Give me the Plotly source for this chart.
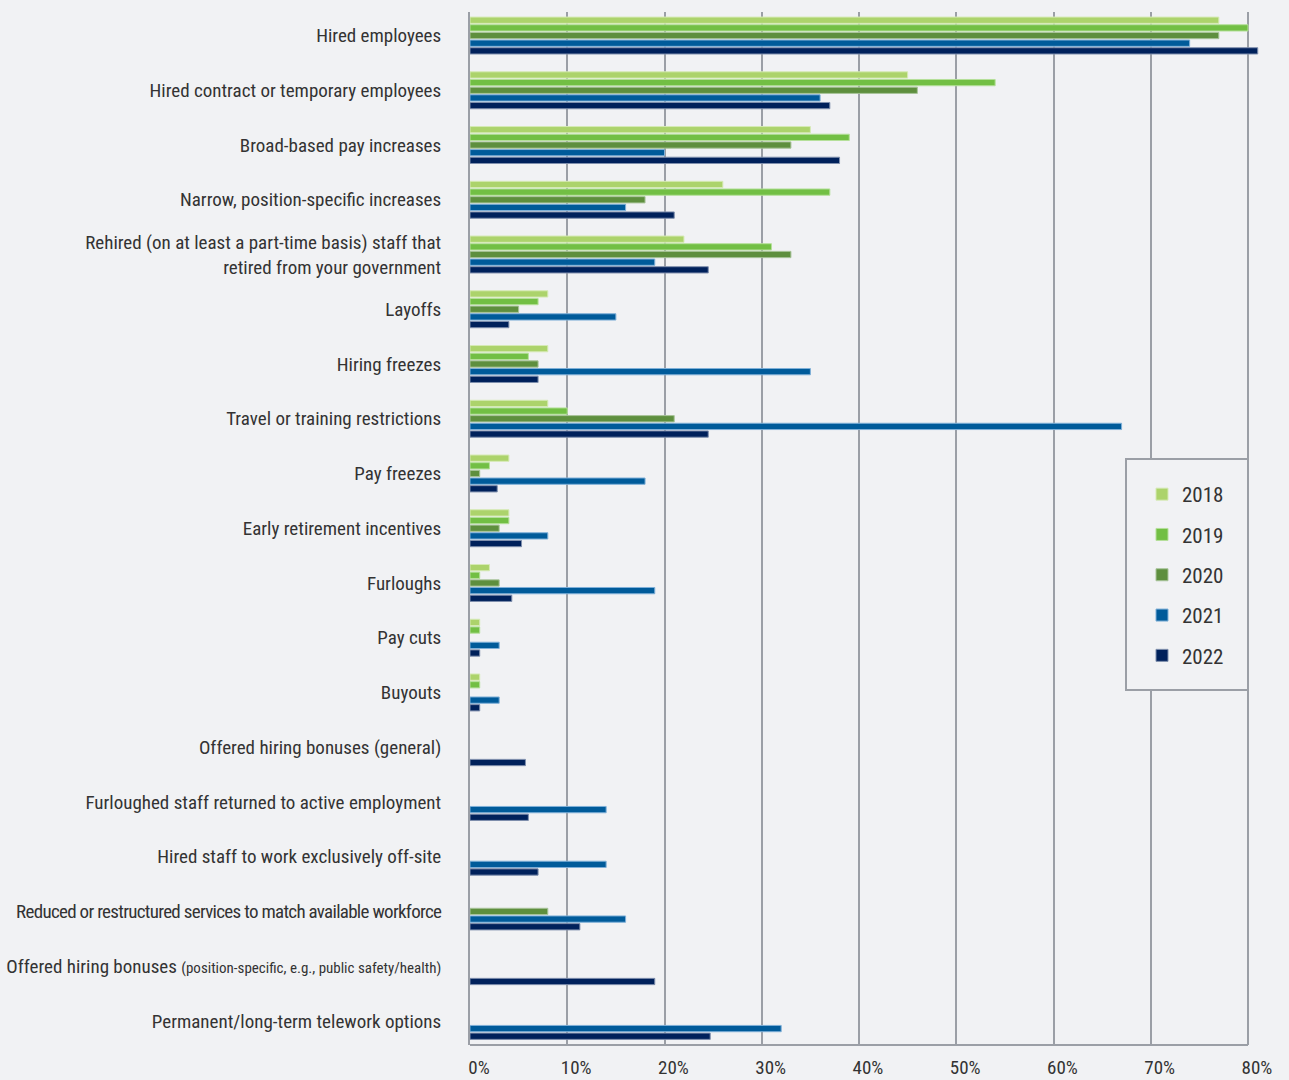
import plotly.graph_objects as go

categories = [
    "Hired employees",
    "Hired contract or temporary employees",
    "Broad-based pay increases",
    "Narrow, position-specific increases",
    "Rehired (on at least a part-time basis) staff that<br>retired from your government",
    "Layoffs",
    "Hiring freezes",
    "Travel or training restrictions",
    "Pay freezes",
    "Early retirement incentives",
    "Furloughs",
    "Pay cuts",
    "Buyouts",
    "Offered hiring bonuses (general)",
    "Furloughed staff returned to active employment",
    "Hired staff to work exclusively off-site",
    "<span style='letter-spacing:-0.7px'>Reduced or restructured services to match available workforce</span>",
    "Offered hiring bonuses <span style='font-size:15px'>(position-specific, e.g., public safety/health)</span>",
    "Permanent/long-term telework options",
]

years = ["2018", "2019", "2020", "2021", "2022"]

v2018 = [77, 45, 35, 26, 22, 8, 8, 8, 4, 4, 2, 1, 1, None, None, None, None, None, None]
v2019 = [80, 54, 39, 37, 31, 7, 6, 10, 2, 4, 1, 1, 1, None, None, None, None, None, None]
v2020 = [77, 46, 33, 18, 33, 5, 7, 21, 1, 3, 3, None, None, None, None, None, 8, None, None]
v2021 = [74, 36, 20, 16, 19, 15, 35, 67, 18, 8, 19, 3, 3, None, 14, 14, 16, None, 32]
v2022 = [81, 37, 38, 21, 24.5, 4, 7, 24.5, 2.8, 5.3, 4.3, 1, 1, 5.7, 6, 7, 11.3, 19, 24.7]

tick_values = [0, 10, 20, 30, 40, 50, 60, 70, 80]
tick_labels = ["0%", "10%", "20%", "30%", "40%", "50%", "60%", "70%", "80%"]

series = [v2018, v2019, v2020, v2021, v2022]
colors = ["#acd36b", "#72bf44", "#5e8f3e", "#005b9a", "#00215b"]
outline = ["#d6eab5", "#b5e09a", "#a9c49a", "#7fb0d8", "#7f8fad"]

BG = "#f1f2f4"
GRID = "#9b9fa6"
TXT = "#333333"
FONT = "Roboto Condensed, DejaVu Sans Condensed, sans-serif"

fig = go.Figure()
for yr, vals, c, oc in zip(years, series, colors, outline):
    fig.add_trace(go.Bar(
        y=categories, x=vals, name=yr, orientation="h",
        marker=dict(color=c, line=dict(color=oc, width=1)),
        legendgroup=yr,
    ))

W, H = 1289, 1080
ml, mr, mt, mb = 470, 28, 12, 35
pw, ph = W - ml - mr, H - mt - mb
x_px_80 = 1248
x_max = 80 * pw / (x_px_80 - ml)


def px_x(p):
    return (p - ml) / pw


def px_y(p):
    return 1 - (p - mt) / ph


fig.update_layout(
    width=W, height=H,
    margin=dict(l=ml, r=mr, t=mt, b=mb, autoexpand=False),
    paper_bgcolor=BG, plot_bgcolor=BG,
    barmode="group", bargap=0.3, bargroupgap=0.18,
    font=dict(family=FONT, size=19, color=TXT),
    showlegend=True,
    legend=dict(
        x=px_x(1142), y=px_y(474), xanchor="left", yanchor="top",
        bgcolor="rgba(0,0,0,0)", borderwidth=0,
        font=dict(family=FONT, size=21, color=TXT),
        tracegroupgap=10,
    ),
    shapes=[
        dict(type="line", xref="x", yref="paper", x0=0, x1=80, y0=0, y1=0,
             line=dict(color=GRID, width=2), layer="above"),
        dict(type="rect", xref="paper", yref="paper",
             x0=px_x(1126), x1=px_x(1248), y0=px_y(690), y1=px_y(459),
             fillcolor=BG, line=dict(color=GRID, width=2), layer="above"),
    ],
)

fig.update_xaxes(
    range=[0, x_max], tickvals=tick_values, ticktext=tick_labels, automargin=False,
    showgrid=True, gridcolor=GRID, gridwidth=2,
    zeroline=False, showline=False,
    ticks="", ticklabelstandoff=9, ticklabelshift=9,
    tickfont=dict(family=FONT, size=19, color=TXT),
)
fig.update_yaxes(
    type="category", categoryorder="array", categoryarray=categories,
    range=[18.44, -0.43], automargin=False,
    showgrid=False, zeroline=False, showline=True, linecolor=GRID, linewidth=2,
    ticks="", ticklabelstandoff=23,
    tickfont=dict(family=FONT, size=19, color=TXT),
)

fig.write_html(
    "out.html",
    config={"displayModeBar": False},
    post_script="document.body.style.margin='0';document.body.style.background='" + BG + "';",
)
